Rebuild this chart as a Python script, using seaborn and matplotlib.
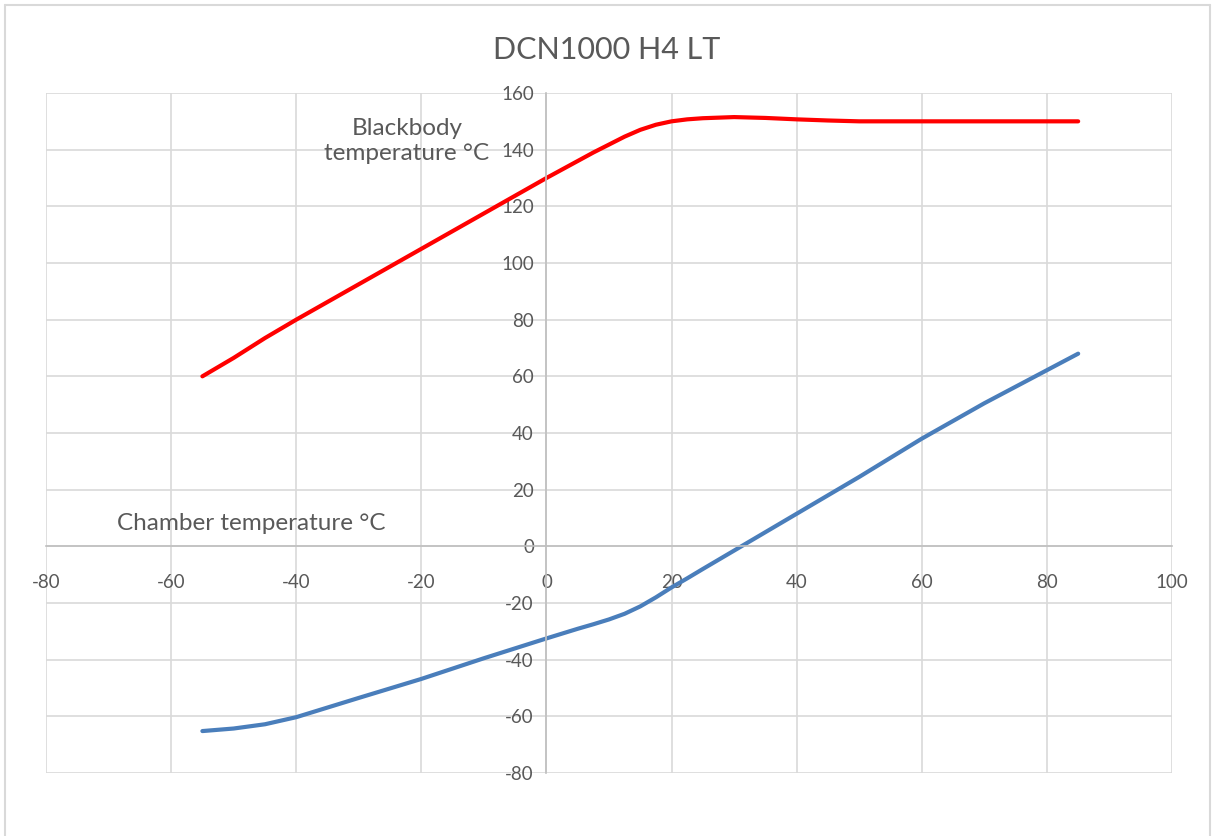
import pandas as pd
import matplotlib
matplotlib.use("Agg")
import matplotlib.pyplot as plt
import seaborn as sns
from matplotlib.lines import Line2D

# Данные
chamber_x = [-55, -50, -45, -40, -30, -20, -10, 0, 2.5, 5, 7.5, 10, 12.5, 15, 17.5, 20, 22.5, 25, 30,
             35, 40, 45, 50, 60, 70, 85]
blackbody_y = [60, 66.5, 73.5, 80, 92.5, 105, 117.5, 130, 133, 136, 139, 141.8, 144.6, 147, 148.8, 150,
               150.7, 151.1, 151.5, 151.2, 150.7, 150.3, 150, 150, 150, 150]
chamber_y = [-65.2, -64.3, -62.8, -60.3, -53.5, -46.8, -39.5, -32.5, -30.8, -29.1, -27.5, -25.8, -23.8,
             -21.2, -18, -14.5, -11.3, -8, -1.5, 5, 11.5, 18, 24.5, 38, 50.5, 68]

title = "DCN1000 H4 LT"
label_blackbody = "Blackbody\ntemperature °C"
label_chamber = "Chamber temperature °C"
x_ticks = list(range(-80, 101, 20))
y_ticks = list(range(-80, 161, 20))

df = pd.DataFrame({"x": chamber_x, "blackbody": blackbody_y, "chamber": chamber_y})

sns.set_style("white")
plt.rcParams["font.family"] = ["Lato", "DejaVu Sans"]
plt.rcParams["axes.unicode_minus"] = False
text_color = "#595959"

fig = plt.figure(figsize=(12.13, 8.36), dpi=100)
ax = fig.add_axes([46 / 1213, 63 / 836, 1126 / 1213, 680 / 836])

sns.lineplot(data=df, x="x", y="blackbody", ax=ax, color="#ff0000", linewidth=3, sort=False,
             solid_capstyle="round", solid_joinstyle="round")
sns.lineplot(data=df, x="x", y="chamber", ax=ax, color="#4a7ebb", linewidth=3, sort=False,
             solid_capstyle="round", solid_joinstyle="round")

ax.set_xlim(-80, 100)
ax.set_ylim(-80, 160)
ax.set_xticks(x_ticks)
ax.set_yticks(y_ticks)
ax.set_xlabel("")
ax.set_ylabel("")
ax.grid(True, color="#d9d9d9", linewidth=1.2)
ax.set_axisbelow(True)

for s in ["top", "right"]:
    ax.spines[s].set_visible(False)
ax.spines["left"].set_position(("data", 0))
ax.spines["bottom"].set_position(("data", 0))
for s in ["left", "bottom"]:
    ax.spines[s].set_color("#bfbfbf")
    ax.spines[s].set_linewidth(1.2)

ax.tick_params(axis="both", length=0, labelsize=13.5, labelcolor=text_color)
ax.tick_params(axis="x", pad=20)
ax.tick_params(axis="y", pad=9)

fig.text(0.5, 1 - 50 / 836, title, ha="center", va="center", fontsize=22, color=text_color)
fig.text(407 / 1213, 1 - 141 / 836, label_blackbody, ha="center", va="center", fontsize=17.5,
         color=text_color, linespacing=1.2)
fig.text(251 / 1213, 1 - 523 / 836, label_chamber, ha="center", va="center", fontsize=17.5,
         color=text_color)

# рамка области диаграммы
border = dict(color="#d9d9d9", linewidth=1.5, transform=fig.transFigure)
fig.add_artist(Line2D([5 / 1213, 5 / 1213], [0, 1 - 5 / 836], **border))
fig.add_artist(Line2D([5 / 1213, 1210 / 1213], [1 - 5 / 836, 1 - 5 / 836], **border))
fig.add_artist(Line2D([1210 / 1213, 1210 / 1213], [0, 1 - 5 / 836], **border))

fig.savefig("out.png", dpi=100)
